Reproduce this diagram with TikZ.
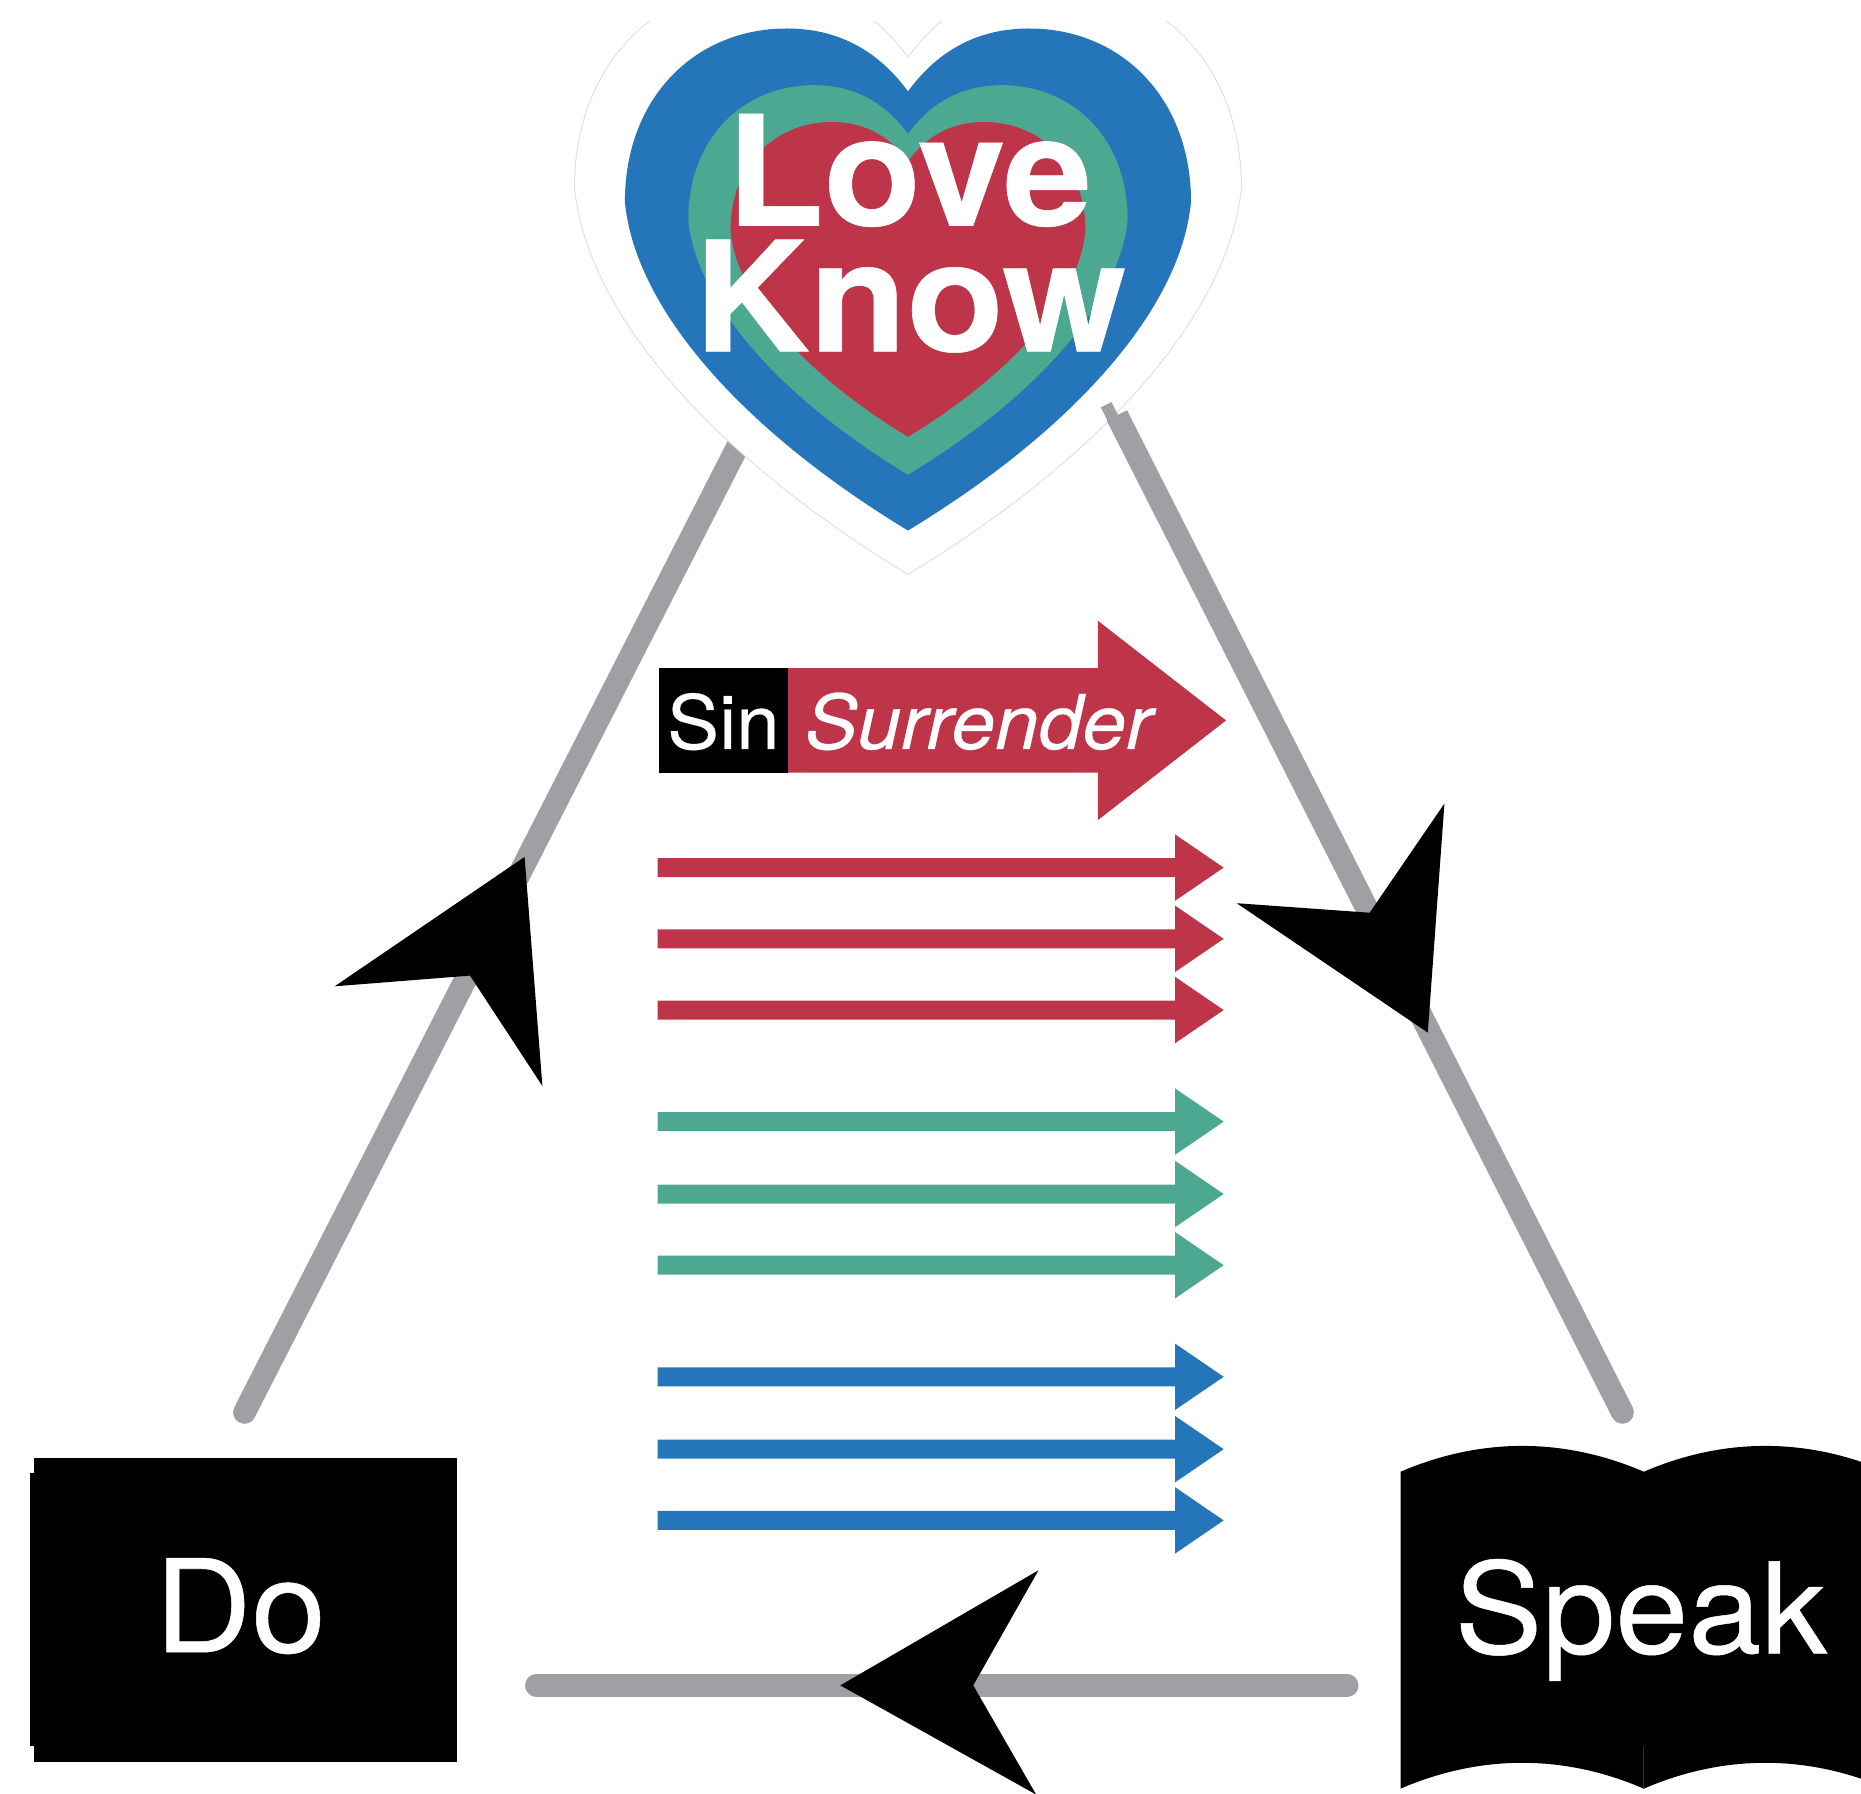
\documentclass[tikz,border=0pt]{standalone}
\usepackage{fontspec}
\setmainfont{TeX Gyre Heros}[FakeBold=0.4,FakeStretch=1.04]
\definecolor{loveRed}{HTML}{BE354A}
\definecolor{loveGreen}{HTML}{4DA892}
\definecolor{loveBlue}{HTML}{2475BA}
\definecolor{lineGray}{HTML}{9FA0A3}
\newcommand{\heartpath}{(0,0) .. controls (-140,-85) and (-230,-187) .. (-238.5,-277) .. controls (-238.5,-364) and (-180,-423) .. (-102,-423) .. controls (-62,-423) and (-27,-407) .. (0,-370) .. controls (27,-407) and (62,-423) .. (102,-423) .. controls (180,-423) and (238.5,-364) .. (238.5,-277) .. controls (230,-187) and (140,-85) .. (0,0) -- cycle}
\newcommand{\thinarrow}[2]{\fill[#1] (554,#2-8) -- (990,#2-8) -- (990,#2-28) -- (1031,#2) -- (990,#2+28) -- (990,#2+8) -- (554,#2+8) -- cycle;}
\tikzset{
  txt/.style={text=white,inner sep=0pt,anchor=base,font=\fontsize{#1}{#1}\selectfont},
  boldtxt/.style={text=white,inner sep=0pt,anchor=base,font=\bfseries\fontsize{#1}{#1}\selectfont},
  itxt/.style={text=white,inner sep=0pt,anchor=base,font=\itshape\fontsize{#1}{#1}\selectfont},
  link/.style={draw=lineGray,line width=9.6pt,line cap=round},
  headmark/.style={fill=black}
}
\begin{document}
\begin{tikzpicture}[x=0.5pt,y=-0.5pt]
\useasboundingbox (0,0) rectangle (1568,1511.5);
\clip (0,0) rectangle (1568,1511.5);
\fill[white] (0,0) rectangle (1568,1511.5);

\coordinate (doTop) at (206,1190);
\coordinate (heartLeft) at (640,340);
\coordinate (heartRight) at (941,350);
\coordinate (heartRightEnd) at (932,341);
\coordinate (heartRightStep) at (945,367);
\coordinate (speakTop) at (1367,1190);
\coordinate (speakLeft) at (1135,1420);
\coordinate (doRight) at (452,1420);

% gray triangle, left side under the heart
\draw[link] (doTop) -- (heartLeft);
\draw[link] (speakLeft) -- (doRight);

% hearts
\begin{scope}
  \clip (0,18) rectangle (1568,1511.5);
  \filldraw[fill=white,draw=black!12,line width=0.4pt,shift={(765,484)},scale=1.178] \heartpath;
\end{scope}
\fill[loveBlue,shift={(765,447)}] \heartpath;
\fill[loveGreen,shift={(765,400)},scale=0.776] \heartpath;
\fill[loveRed,shift={(765,368)},scale=0.627] \heartpath;

% right side of the triangle runs over the white heart
\draw[link,line cap=butt] (speakTop) -- (heartRight);
\fill[lineGray] (speakTop) circle (9.6);
\draw[lineGray,line width=5pt] (heartRightEnd) -- (heartRightStep);

\node[boldtxt=64.5] (love) at (766,190) {Love};
\node[boldtxt=64.5] (know) at (767,296) {Know};

% big arrow
\fill[black] (555,563) rectangle (664,651);
\fill[loveRed] (664,563) -- (925,563) -- (925,523) -- (1033,607) -- (925,691) -- (925,651) -- (664,651) -- cycle;
\node[txt=31.5] (sin) at (609.5,631) {Sin};
\node[itxt=31.8] (surrender) at (824.5,631) {Surrender};

% thin arrows
\foreach \y in {731,791,851} {\thinarrow{loveRed}{\y}}
\foreach \y in {945,1006,1066} {\thinarrow{loveGreen}{\y}}
\foreach \y in {1160,1221,1281} {\thinarrow{loveBlue}{\y}}

% black arrowheads
\fill[headmark] (442,722) -- (457,915) -- (396,822) -- (282,831) -- cycle;
\fill[headmark] (1203,870) -- (1042,761) -- (1154,769) -- (1217,677) -- cycle;
\fill[headmark] (708,1420) -- (875,1323) -- (820,1420) -- (873,1512) -- cycle;

% Do box
\fill[black] (29,1228.5) rectangle (385,1484.5);
\fill[black] (25,1241) rectangle (30,1471);
\node[txt=54.3] (do) at (202.5,1392) {Do};

% Speak book
\fill[black] (1180,1240) .. controls (1250,1210) and (1320,1212) .. (1385,1240)
  .. controls (1450,1212) and (1520,1210) .. (1590,1240) -- (1590,1507)
  .. controls (1520,1477) and (1450,1479) .. (1385,1507)
  .. controls (1320,1479) and (1250,1477) .. (1180,1507) -- cycle;
\draw[black!80!white,line width=0.4pt] (1385,1472) -- (1385,1507);
\node[txt=53.2] (speak) at (1382.5,1393) {Speak};
\end{tikzpicture}
\end{document}
